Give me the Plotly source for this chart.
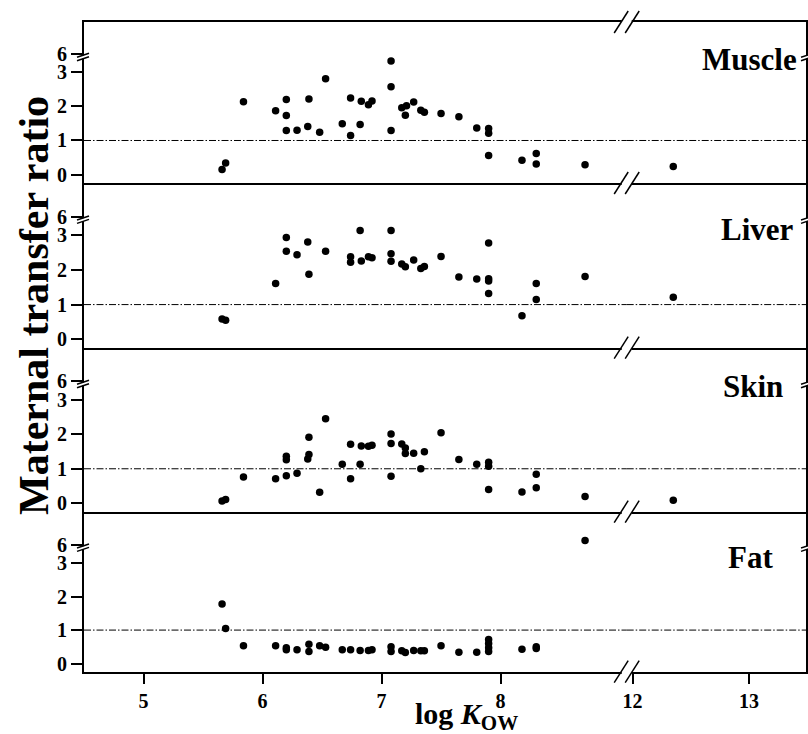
import plotly.graph_objects as go
from plotly.subplots import make_subplots

# ---------------- data ----------------
panel_names = ["Muscle", "Liver", "Skin", "Fat"]

muscle_x = [5.66, 5.69, 5.84, 6.11, 6.20, 6.20, 6.20, 6.29, 6.39, 6.38, 6.48, 6.53, 6.48,
            6.67, 6.74, 6.74, 6.82, 6.83, 6.89, 6.92, 7.08, 7.08, 7.08, 7.17, 7.21, 7.20,
            7.27, 7.33, 7.36, 7.50, 7.65, 7.80, 7.90, 7.90, 7.90, 8.18, 8.30, 8.30, 8.71, 12.35]
muscle_y = [0.15, 0.34, 2.14, 1.87, 2.20, 1.73, 1.29, 1.30, 2.22, 1.41, 1.24, 2.81, -0.41,
            1.49, 2.25, 1.15, 1.47, 2.15, 2.05, 2.16, 3.33, 2.58, 1.29, 1.96, 2.02, 1.74,
            2.13, 1.89, 1.83, 1.79, 1.70, 1.37, 1.35, 1.21, 0.56, 0.42, 0.62, 0.31, 0.29, 0.24]

liver_x = [5.66, 5.69, 6.11, 6.20, 6.20, 6.29, 6.38, 6.39, 6.53, 6.74, 6.74, 6.82, 6.83,
           6.89, 6.92, 7.08, 7.08, 7.08, 7.17, 7.20, 7.27, 7.33, 7.36, 7.50, 7.65, 7.80,
           7.90, 7.90, 7.90, 7.90, 8.18, 8.30, 8.30, 8.71, 12.35]
liver_y = [0.58, 0.55, 1.61, 2.94, 2.54, 2.44, 2.81, 1.88, 2.54, 2.38, 2.22, 3.14, 2.26,
           2.38, 2.35, 3.14, 2.47, 2.25, 2.17, 2.09, 2.29, 2.04, 2.10, 2.39, 1.80, 1.74,
           2.78, 1.75, 1.68, 1.32, 0.68, 1.61, 1.15, 1.81, 1.21]

skin_x = [5.66, 5.69, 5.84, 6.11, 6.20, 6.20, 6.20, 6.29, 6.39, 6.39, 6.38, 6.48, 6.53,
          6.67, 6.74, 6.74, 6.82, 6.83, 6.89, 6.92, 7.08, 7.08, 7.08, 7.17, 7.20, 7.20,
          7.27, 7.33, 7.36, 7.50, 7.65, 7.80, 7.90, 7.90, 7.90, 8.18, 8.30, 8.30, 8.71, 12.35]
skin_y = [0.07, 0.11, 0.76, 0.71, 1.36, 1.26, 0.80, 0.87, 1.91, 1.41, 1.28, 0.32, 2.45,
          1.13, 1.71, 0.71, 1.13, 1.66, 1.65, 1.68, 2.01, 1.73, 0.78, 1.72, 1.60, 1.44,
          1.45, 1.00, 1.49, 2.04, 1.27, 1.13, 1.19, 1.07, 0.40, 0.33, 0.84, 0.45, 0.20, 0.09]

fat_x = [5.66, 5.69, 5.84, 6.11, 6.20, 6.20, 6.29, 6.39, 6.39, 6.48, 6.53, 6.67, 6.74,
         6.82, 6.89, 6.92, 7.08, 7.08, 7.17, 7.20, 7.27, 7.33, 7.36, 7.50, 7.65, 7.80,
         7.90, 7.90, 7.90, 7.90, 8.18, 8.30, 8.30, 8.71]
fat_y = [1.78, 1.05, 0.53, 0.53, 0.47, 0.41, 0.41, 0.58, 0.36, 0.53, 0.49, 0.41, 0.41,
         0.39, 0.39, 0.41, 0.50, 0.36, 0.38, 0.33, 0.39, 0.38, 0.38, 0.53, 0.34, 0.34,
         0.72, 0.60, 0.47, 0.36, 0.43, 0.50, 0.45, 6.13]

x_ticks_left = [5, 6, 7, 8]
x_ticks_right = [12, 13]
y_ticks_low = [0, 1, 2, 3]
y_ticks_high = [6]
reference_ratio = 1

panel_x = [muscle_x, liver_x, skin_x, fat_x]
panel_y = [muscle_y, liver_y, skin_y, fat_y]

# ---------------- layout geometry ----------------
W, H = 808, 734
L, R, T, B = 84, 2, 22, 62
PW, PH = W - L - R, H - T - B
BREAK_PX = 626.7
XR_LEFT = [4.5, 9.06]
XR_RIGHT = [11.95, 13.49]
YR_LOW = [-0.25, 3.45]
YR_HIGH = [5.91, 6.96]
X_SPLIT = 10.0     # x values above this are on the right (broken) segment
Y_SPLIT = 4.5      # y values above this are on the upper (broken) segment
row_heights = [35, 126, 36.7, 128, 36.3, 127.7, 36, 124]

FONT = "Liberation Serif"

fig = make_subplots(rows=8, cols=2, row_heights=row_heights,
                    column_widths=[BREAK_PX - L, W - R - BREAK_PX],
                    vertical_spacing=0, horizontal_spacing=0)

marker = dict(color="black", size=7.5)
for p in range(4):
    xs, ys = panel_x[p], panel_y[p]
    for seg in range(2):  # 0 = upper, 1 = lower
        for col in (1, 2):
            sx, sy = [], []
            for xv, yv in zip(xs, ys):
                in_col = (xv > X_SPLIT) == (col == 2)
                in_seg = (yv > Y_SPLIT) == (seg == 0)
                if in_col and in_seg:
                    sx.append(xv)
                    sy.append(yv)
            # every subplot gets a trace (possibly empty) so that its axes are drawn
            fig.add_trace(go.Scatter(x=sx, y=sy, mode="markers", marker=marker,
                                     cliponaxis=False, showlegend=False,
                                     hoverinfo="skip"),
                          row=2 * p + 1 + seg, col=col)

tickfont = dict(family=FONT, size=20, color="black", weight="bold")
for p in range(4):
    for seg in range(2):
        row = 2 * p + 1 + seg
        last = (p == 3 and seg == 1)
        # draw the top frame line only for the first panel; lower lines come
        # from the bottom axis of each panel (avoids doubled lines)
        show_x_line = (seg == 1) or (p == 0)
        for col in (1, 2):
            xr = XR_LEFT if col == 1 else XR_RIGHT
            xt = x_ticks_left if col == 1 else x_ticks_right
            fig.update_xaxes(row=row, col=col, range=xr, showgrid=False, zeroline=False,
                             showline=show_x_line, linecolor="black", linewidth=2,
                             side="top" if seg == 0 else "bottom",
                             tickvals=xt if last else [],
                             ticks="outside" if last else "",
                             ticklen=10, tickwidth=1.5, tickcolor="black",
                             showticklabels=last, tickfont=tickfont)
            yr = YR_HIGH if seg == 0 else YR_LOW
            yt = y_ticks_high if seg == 0 else y_ticks_low
            if col == 1:
                fig.update_yaxes(row=row, col=col, range=yr, showgrid=False, zeroline=False,
                                 showline=True, linecolor="black", linewidth=2,
                                 tickvals=yt, ticks="outside", ticklen=11, tickwidth=2,
                                 tickcolor="black", tickfont=tickfont)
            else:
                fig.update_yaxes(row=row, col=col, range=yr, showgrid=False, zeroline=False,
                                 showline=True, linecolor="black", linewidth=2,
                                 side="right", tickvals=[], showticklabels=False)
        if seg == 1:
            for col in (1, 2):
                fig.add_hline(y=reference_ratio, row=row, col=col,
                              exclude_empty_subplots=False,
                              line=dict(color="black", width=1, dash="7px,2px,1.5px,2px"))


def xp(px):
    return (px - L) / PW


def yp(py):
    return (H - B - py) / PH


# x-axis break marks at every horizontal frame line
panel_edges = [22]
acc = 22
for i in range(4):
    acc += row_heights[2 * i] + row_heights[2 * i + 1]
    panel_edges.append(acc)
for ey in panel_edges:
    fig.add_shape(type="rect", xref="paper", yref="paper",
                  x0=xp(BREAK_PX - 5), x1=xp(BREAK_PX + 5),
                  y0=yp(ey + 2.5), y1=yp(ey - 2.5), fillcolor="white",
                  line=dict(width=0), layer="above")
    for dx in (-5.5, 5.5):
        fig.add_shape(type="line", xref="paper", yref="paper",
                      x0=xp(BREAK_PX + dx - 7), y0=yp(ey + 11),
                      x1=xp(BREAK_PX + dx + 7), y1=yp(ey - 11),
                      line=dict(color="black", width=1.5), layer="above")
# y-axis break marks
acc = 22
for i in range(4):
    by = acc + row_heights[2 * i]
    acc += row_heights[2 * i] + row_heights[2 * i + 1]
    for ax_px in (L - 1, W - R + 1):
        fig.add_shape(type="rect", xref="paper", yref="paper",
                      x0=xp(ax_px - 2), x1=xp(ax_px + 2),
                      y0=yp(by + 1.5), y1=yp(by - 1.5), fillcolor="white",
                      line=dict(width=0), layer="above")
        for dy in (-1.7, 1.7):
            fig.add_shape(type="line", xref="paper", yref="paper",
                          x0=xp(ax_px - 6), y0=yp(by + dy + 2),
                          x1=xp(ax_px + 6), y1=yp(by + dy - 2),
                          line=dict(color="black", width=1.5), layer="above")

label_pos = [(749, 59), (757, 229), (753, 386), (750, 557.5)]
for name, (cx, cy) in zip(panel_names, label_pos):
    fig.add_annotation(text=name, xref="paper", yref="paper", x=xp(cx), y=yp(cy),
                       xanchor="center", yanchor="middle", showarrow=False,
                       font=dict(family=FONT, size=31, color="black", weight="bold"))
fig.add_annotation(text="Maternal transfer ratio", textangle=-90, xref="paper",
                   yref="paper", x=xp(34), y=yp(306), xanchor="center",
                   yanchor="middle", showarrow=False,
                   font=dict(family=FONT, size=42, color="black", weight="bold"))
fig.add_annotation(text="log <i>K</i><sub>OW</sub>", xref="paper", yref="paper",
                   x=xp(466), y=yp(716), xanchor="center", yanchor="middle",
                   showarrow=False,
                   font=dict(family=FONT, size=30, color="black", weight="bold"))

fig.update_layout(width=W, height=H, autosize=False,
                  margin=dict(l=L, r=R, t=T, b=B, pad=0),
                  paper_bgcolor="white", plot_bgcolor="white", showlegend=False)

fig.write_html("out.html")
